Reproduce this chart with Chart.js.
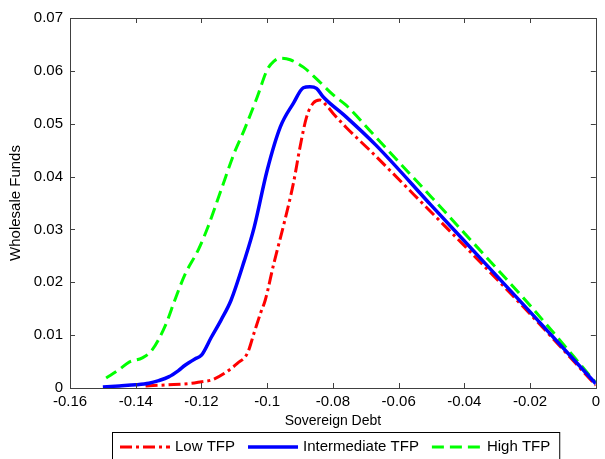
<!DOCTYPE html>
<html>
<head>
<meta charset="utf-8">
<script src="https://cdn.jsdelivr.net/npm/chart.js@4"></script>
<style>
  html, body { margin: 0; padding: 0; background: #fff; }
  #wrap { width: 605px; height: 459px; }
</style>
</head>
<body>
<div id="wrap"><canvas id="myChart" width="605" height="459"></canvas></div>
<script>
// series
const lowX  = [-0.137, -0.130, -0.123, -0.120, -0.117, -0.113, -0.109, -0.106, -0.104, -0.102, -0.1006, -0.098, -0.095, -0.092, -0.090, -0.088, -0.086, -0.084, -0.082, -0.080, -0.0758, -0.068, -0.05, -0.04, -0.02, 0];
const lowY  = [0.0004, 0.0006, 0.0009, 0.0012, 0.0015, 0.0028, 0.0047, 0.0066, 0.0104, 0.0142, 0.0166, 0.0235, 0.0308, 0.0388, 0.0456, 0.0513, 0.0539, 0.0545, 0.0535, 0.0520, 0.0492, 0.0445, 0.0332, 0.0269, 0.0140, 0.0005];

const midX  = [-0.150, -0.145, -0.140, -0.136, -0.133, -0.130, -0.127, -0.125, -0.122, -0.120, -0.117, -0.114, -0.111, -0.107, -0.104, -0.100, -0.096, -0.092, -0.089, -0.087, -0.085, -0.083, -0.076, -0.067, -0.05, -0.04, -0.02, 0];
const midY  = [0.0002, 0.0004, 0.0006, 0.0009, 0.0014, 0.0021, 0.0033, 0.0043, 0.0055, 0.0062, 0.0096, 0.0129, 0.0166, 0.0240, 0.0303, 0.0412, 0.0494, 0.0539, 0.0568, 0.0570, 0.0567, 0.0551, 0.0513, 0.0460, 0.0345, 0.0278, 0.0144, 0.0008];

const highX = [-0.149, -0.145, -0.142, -0.138, -0.135, -0.131, -0.128, -0.125, -0.121, -0.118, -0.114, -0.110, -0.107, -0.103, -0.100, -0.098, -0.096, -0.093, -0.089, -0.085, -0.080, -0.076, -0.068, -0.06, -0.05, -0.04, -0.02, 0];
const highY = [0.0019, 0.0035, 0.0049, 0.0057, 0.0072, 0.0118, 0.0168, 0.0215, 0.0261, 0.0305, 0.0375, 0.0445, 0.0488, 0.0551, 0.0602, 0.0618, 0.0624, 0.0621, 0.0607, 0.0585, 0.0555, 0.0535, 0.0482, 0.0428, 0.0361, 0.0293, 0.0156, 0.0010];

const seriesNames = ['Low TFP', 'Intermediate TFP', 'High TFP'];
const xTicks = [-0.16, -0.14, -0.12, -0.1, -0.08, -0.06, -0.04, -0.02, 0];
const yTicks = [0, 0.01, 0.02, 0.03, 0.04, 0.05, 0.06, 0.07];

const toPoints = (xs, ys) => xs.map((x, i) => ({x: x, y: ys[i]}));
const fmt = v => String(+v.toFixed(2));
const FONT = "'Liberation Sans', Arial, sans-serif";

// matlab style box with inward ticks
const boxPlugin = {
    id: 'box',
    afterDraw(chart) {
        const {ctx, chartArea: a, scales} = chart;
        ctx.save();
        ctx.strokeStyle = '#404040';
        ctx.lineWidth = 1;
        ctx.strokeRect(Math.round(a.left) + 0.5, Math.round(a.top) + 0.5,
            Math.round(a.right - a.left), Math.round(a.bottom - a.top));
        ctx.beginPath();
        xTicks.forEach(v => {
            const px = Math.round(scales.x.getPixelForValue(v)) + 0.5;
            ctx.moveTo(px, a.bottom); ctx.lineTo(px, a.bottom - 5);
            ctx.moveTo(px, a.top); ctx.lineTo(px, a.top + 5);
        });
        yTicks.forEach(v => {
            const py = Math.round(scales.y.getPixelForValue(v)) + 0.5;
            ctx.moveTo(a.left, py); ctx.lineTo(a.left + 5, py);
            ctx.moveTo(a.right, py); ctx.lineTo(a.right - 5, py);
        });
        ctx.stroke();

        // legend in a frame under the axis title
        ctx.font = '15px ' + FONT;
        ctx.textBaseline = 'middle';
        ctx.fillStyle = '#000';
        const top = 432, cy = 447, sample = 50, gap = 13;
        let x = 120;
        const left = 112;
        chart.data.datasets.forEach((ds, i) => {
            ctx.save();
            ctx.strokeStyle = ds.borderColor;
            ctx.lineWidth = ds.borderWidth;
            ctx.setLineDash(ds.borderDash || []);
            ctx.beginPath();
            ctx.moveTo(x, cy); ctx.lineTo(x + sample, cy);
            ctx.stroke();
            ctx.restore();
            ctx.fillText(ds.label, x + sample + 5, cy);
            x += sample + 5 + ctx.measureText(ds.label).width + gap;
        });
        const right = x - gap + 9;
        ctx.strokeStyle = '#000';
        ctx.lineWidth = 1;
        ctx.strokeRect(left + 0.5, top + 0.5, right - left, 40);
        ctx.restore();
    }
};

const renderChart = () => {
    const ctx = document.getElementById('myChart');
    new Chart(ctx, {
        type: 'line',
        data: {
            datasets: [
                {label: seriesNames[0], data: toPoints(lowX, lowY), borderColor: '#ff0000', borderWidth: 3, borderDash: [12, 4, 3, 4], order: 2},
                {label: seriesNames[1], data: toPoints(midX, midY), borderColor: '#0000ff', borderWidth: 3.5, order: 0},
                {label: seriesNames[2], data: toPoints(highX, highY), borderColor: '#00ff00', borderWidth: 3, borderDash: [12, 6], order: 1}
            ]
        },
        options: {
            responsive: false,
            animation: false,
            layout: {padding: {top: 18, right: 4, bottom: 29, left: 0}},
            elements: {
                point: {radius: 0},
                line: {tension: 0, cubicInterpolationMode: 'monotone', fill: false}
            },
            scales: {
                x: {
                    type: 'linear', min: -0.16, max: 0,
                    afterBuildTicks: s => { s.ticks = xTicks.map(v => ({value: v})); },
                    afterFit: s => { s.height = 42; },
                    grid: {display: false, drawTicks: false},
                    border: {display: false},
                    ticks: {padding: 5, color: '#000', font: {family: FONT, size: 15}, callback: v => fmt(v), maxRotation: 0, autoSkip: false},
                    title: {display: true, text: 'Sovereign Debt', color: '#000', font: {family: FONT, size: 14}, padding: 0}
                },
                y: {
                    type: 'linear', min: 0, max: 0.07,
                    afterBuildTicks: s => { s.ticks = yTicks.map(v => ({value: v})); },
                    afterFit: s => { s.width = 70; },
                    grid: {display: false, drawTicks: false},
                    border: {display: false},
                    ticks: {padding: 7, color: '#000', font: {family: FONT, size: 15}, callback: v => fmt(v)},
                    title: {display: true, text: 'Wholesale Funds', color: '#000', font: {family: FONT, size: 15}, padding: {top: 7, bottom: 0}}
                }
            },
            plugins: {
                legend: {display: false},
                tooltip: {enabled: false}
            }
        },
        plugins: [boxPlugin]
    });
};

renderChart();
</script>
</body>
</html>
